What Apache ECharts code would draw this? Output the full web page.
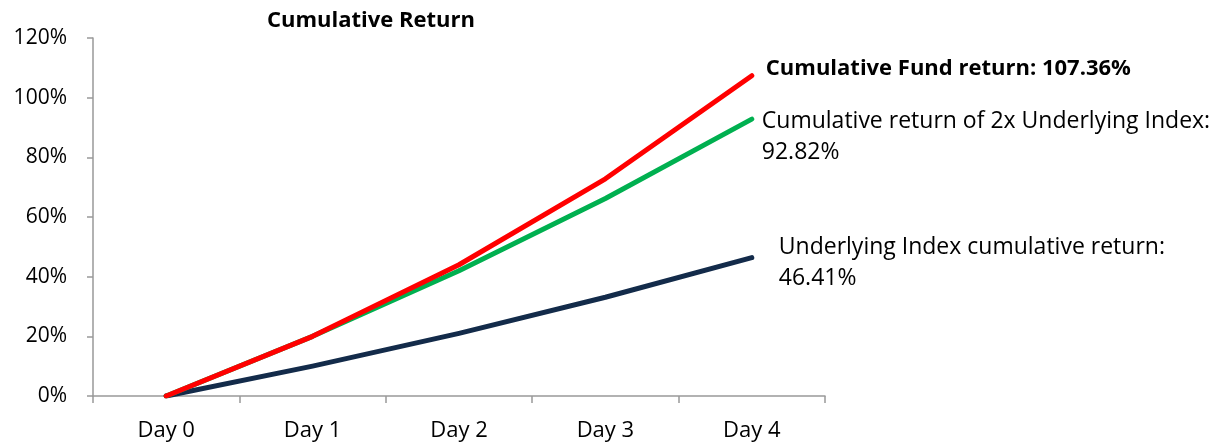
<!DOCTYPE html>
<html><head><meta charset="utf-8">
<script src="https://cdn.jsdelivr.net/npm/echarts@6/dist/echarts.min.js"></script>
<style>html,body{margin:0;padding:0;background:#fff}#c{width:1230px;height:446px}</style>
</head><body><div id="c"></div>
<script>
const categories = ['Day 0', 'Day 1', 'Day 2', 'Day 3', 'Day 4'];
const underlyingIndex = [0, 10, 21, 33.1, 46.41];
const twoXUnderlying = [0, 20, 42, 66.2, 92.82];
const fundReturn = [0, 20, 44, 72.8, 107.36];
const yTicks = [0, 20, 40, 60, 80, 100, 120];
const labelFund = 'Cumulative Fund return: 107.36%';
const labelTwoX = 'Cumulative return of 2x Underlying Index:\n92.82%';
const labelIndex = 'Underlying Index cumulative return:\n46.41%';

const FONT = 'Open Sans';
function endLabel(text, style) {
  return Object.assign({
    show: true, formatter: text, distance: 0, align: 'left', verticalAlign: 'middle',
    fontFamily: FONT, color: '#000'
  }, style);
}

const chart = echarts.init(document.getElementById('c'), null, { renderer: 'canvas' });
chart.setOption({
  animation: false,
  backgroundColor: '#fff',
  title: {
    text: 'Cumulative Return', left: 366, top: 5, textAlign: 'center',
    textStyle: { fontFamily: FONT, fontWeight: 'bold', fontSize: 22, color: '#000' }
  },
  grid: { left: 93, right: 405, top: 38, bottom: 50, containLabel: false },
  xAxis: {
    type: 'category', data: categories, boundaryGap: true,
    axisLine: { lineStyle: { color: '#999', width: 1.5 } },
    axisTick: { show: true, length: 7, lineStyle: { color: '#999', width: 1.5 } },
    axisLabel: { fontFamily: FONT, fontSize: 22, color: '#000', margin: 24 }
  },
  yAxis: {
    type: 'value', min: yTicks[0], max: yTicks[yTicks.length - 1], interval: 20,
    axisLine: { show: true, lineStyle: { color: '#999', width: 1.5 } },
    axisTick: { show: true, length: 6, lineStyle: { color: '#999', width: 1.5 } },
    splitLine: { show: false },
    axisLabel: { fontFamily: FONT, fontSize: 21, color: '#000', margin: 26, formatter: v => v + '%' }
  },
  series: [
    {
      type: 'line', data: underlyingIndex, symbol: 'none',
      lineStyle: { color: '#132B4A', width: 5, cap: 'round', join: 'round' }, z: 2,
      endLabel: endLabel(labelIndex, { fontSize: 23, lineHeight: 31, offset: [27, 5] })
    },
    {
      type: 'line', data: twoXUnderlying, symbol: 'none',
      lineStyle: { color: '#00B050', width: 5, cap: 'round', join: 'round' }, z: 3,
      endLabel: endLabel(labelTwoX, { fontSize: 23, lineHeight: 31, offset: [10, 18] })
    },
    {
      type: 'line', data: fundReturn, symbol: 'none',
      lineStyle: { color: '#FF0000', width: 5, cap: 'round', join: 'round' }, z: 4,
      endLabel: endLabel(labelFund, { fontSize: 22, fontWeight: 'bold', offset: [14, -7] })
    }
  ]
});
</script></body></html>
